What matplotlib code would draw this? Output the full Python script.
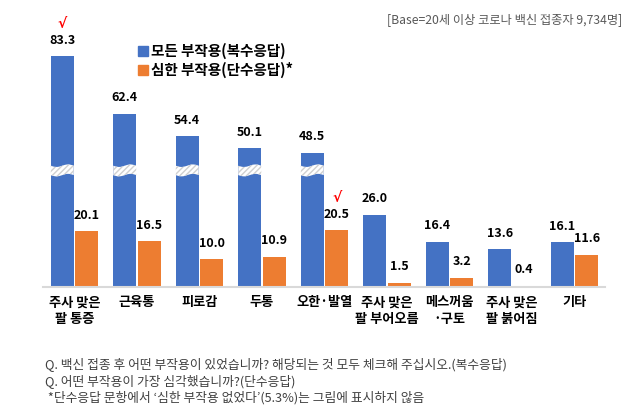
import numpy as np
import matplotlib.pyplot as plt

plt.rcParams['font.family'] = ['Noto Sans CJK KR', 'DejaVu Sans']

categories = ['주사 맞은\n팔 통증', '근육통', '피로감', '두통', '오한·발열',
              '주사 맞은\n팔 부어오름', '메스꺼움\n·구토', '주사 맞은\n팔 붉어짐', '기타']
all_effects = [83.3, 62.4, 54.4, 50.1, 48.5, 26.0, 16.4, 13.6, 16.1]
severe_effects = [20.1, 16.5, 10.0, 10.9, 20.5, 1.5, 3.2, 0.4, 11.6]
checked_all = [0]
checked_severe = [4]

BLUE = '#4472C4'
ORANGE = '#ED7D31'

fig = plt.figure(figsize=(6.33, 4.16), dpi=100)
ax = fig.add_axes([43 / 633, 0.310, 562 / 633, 0.642])

x = np.arange(len(categories))
w = 0.368
off = 0.196
ax.bar(x - off, all_effects, w, color=BLUE, zorder=2)
ax.bar(x + off, severe_effects, w, color=ORANGE, zorder=2)

ax.set_xlim(-0.504, 8.488)
ax.set_ylim(0, 96.4)
for s in ['top', 'right', 'left']:
    ax.spines[s].set_visible(False)
ax.spines['bottom'].set_color('#D9D9D9')
ax.spines['bottom'].set_linewidth(1.5)
ax.set_yticks([])
ax.set_xticks(x)
ax.set_xticklabels(categories, fontsize=9.5, fontweight='bold', linespacing=1.2)
ax.tick_params(axis='x', length=0, pad=6)

# break marks on tall bars
for i, v in enumerate(all_effects):
    if v > 45:
        xs = np.linspace(i - off - w / 2, i - off + w / 2, 30)
        wave = 0.45 * np.sin((xs - xs[0]) / w * 2 * np.pi)
        ax.fill_between(xs, 40.4 - wave, 43.8 - wave, facecolor='white',
                        edgecolor='#D0D0D0', hatch='//////', linewidth=0, zorder=3)

for i, v in enumerate(all_effects):
    ax.text(i - off, v + 3.5, f'{v:.1f}', ha='center', va='bottom',
            fontsize=9, fontweight='bold')
for i, v in enumerate(severe_effects):
    ax.text(i + off, v + 3.5, f'{v:.1f}', ha='center', va='bottom',
            fontsize=9, fontweight='bold')
for i in checked_all:
    ax.text(i - off, all_effects[i] + 9.0, '√', ha='center', va='bottom',
            fontsize=10, color='#FF0000', family='DejaVu Sans', fontweight='bold')
for i in checked_severe:
    ax.text(i + off, severe_effects[i] + 9.0, '√', ha='center', va='bottom',
            fontsize=10, color='#FF0000', family='DejaVu Sans', fontweight='bold')

# legend
fig.patches.append(plt.Rectangle((138 / 633, 1 - 56 / 416), 10 / 633, 10 / 416,
                                 color=BLUE, transform=fig.transFigure))
fig.patches.append(plt.Rectangle((138 / 633, 1 - 75 / 416), 10 / 633, 10 / 416,
                                 color=ORANGE, transform=fig.transFigure))
fig.text(151 / 633, 1 - 51 / 416, '모든 부작용(복수응답)', fontsize=10.5,
         fontweight='bold', va='center')
fig.text(151 / 633, 1 - 70 / 416, '심한 부작용(단수응답)*', fontsize=10.5,
         fontweight='bold', va='center')

fig.text(622 / 633, 1 - 20 / 416, '[Base=20세 이상 코로나 백신 접종자 9,734명]',
         fontsize=8.8, color='#595959', ha='right', va='center')

notes = ['Q. 백신 접종 후 어떤 부작용이 있었습니까? 해당되는 것 모두 체크해 주십시오.(복수응답)',
         'Q. 어떤 부작용이 가장 심각했습니까?(단수응답)',
         ' *단수응답 문항에서 ‘심한 부작용 없었다’(5.3%)는 그림에 표시하지 않음']
for k, line in enumerate(notes):
    fig.text(45 / 633, 1 - (364 + 17 * k) / 416, line, fontsize=9.2,
             color='#404040', va='center')

fig.savefig('out.png', dpi=100)
